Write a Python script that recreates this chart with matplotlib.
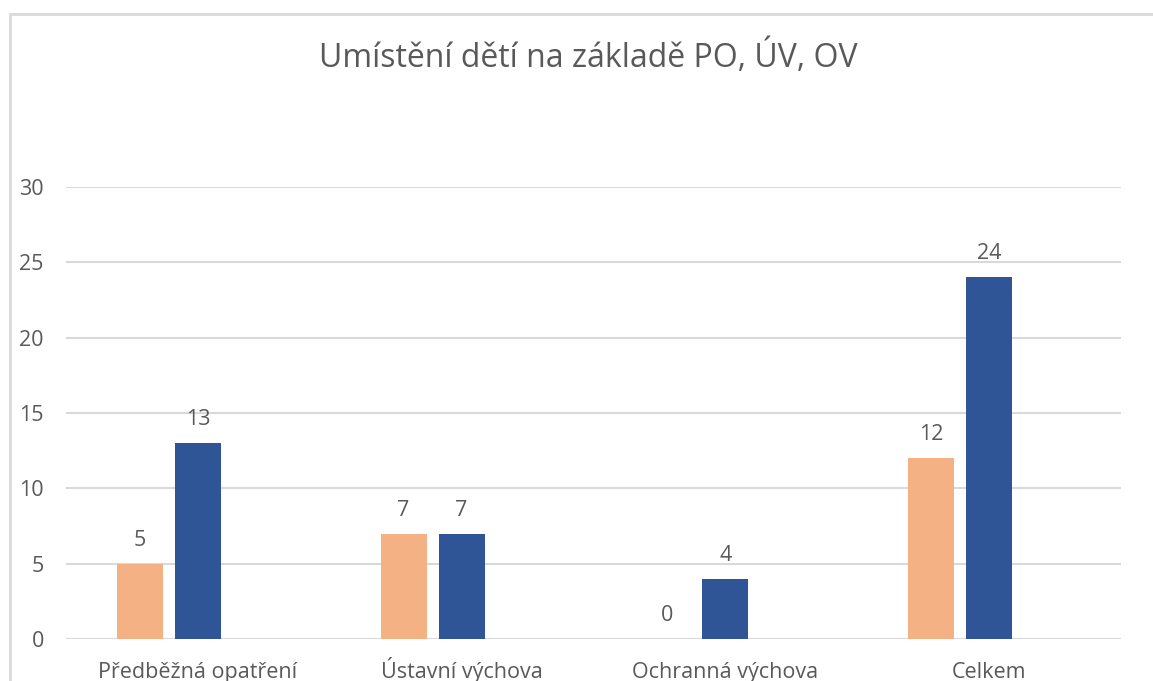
import matplotlib
matplotlib.use("Agg")
import matplotlib.pyplot as plt
import numpy as np
from matplotlib.patches import Rectangle

categories = ["Předběžná opatření", "Ústavní výchova", "Ochranná výchova", "Celkem"]
series_a = [5, 7, 0, 12]
series_b = [13, 7, 4, 24]
yticks = [0, 5, 10, 15, 20, 25, 30]
title = "Umístění dětí na základě PO, ÚV, OV"

color_a = "#F4B183"
color_b = "#2F5597"
text_color = "#595959"
grid_color = "#D9D9D9"

plt.rcParams['font.family'] = ['Open Sans', 'DejaVu Sans']

W, H = 1153, 681
fig = plt.figure(figsize=(W / 100, H / 100), dpi=100)
fig.patch.set_facecolor("white")

# chart border
fig.patches.append(Rectangle((9.5 / W, -0.1), 1.2, 1 - 13.5 / H + 0.1,
                             transform=fig.transFigure, fill=False,
                             edgecolor=grid_color, lw=2))

ax = fig.add_axes([66 / W, 1 - 639 / H, (1121 - 66) / W, (639 - 187) / H])
x = np.arange(len(categories))
cat_px = (1121 - 66) / len(categories)
bw = 46 / cat_px
step = 58 / cat_px
# Three-slot grouping (third slot empty): first series left of centre, second centred
ax.bar(x - step, series_a, width=bw, color=color_a, zorder=3)
ax.bar(x, series_b, width=bw, color=color_b, zorder=3)

fs = 15.5
for xi, va, vb in zip(x, series_a, series_b):
    ax.annotate(str(va), (xi - step, va), xytext=(0, 18), textcoords="offset pixels",
                ha="center", va="baseline", fontsize=fs, color=text_color)
    ax.annotate(str(vb), (xi, vb), xytext=(0, 18), textcoords="offset pixels",
                ha="center", va="baseline", fontsize=fs, color=text_color)

ax.set_xlim(-0.5, len(categories) - 0.5)
ax.set_ylim(0, 30)
ax.set_yticks(yticks)
ax.set_xticks(x)
ax.set_xticklabels(categories, va="baseline")
ax.tick_params(axis="both", length=0, labelsize=fs, labelcolor=text_color)
ax.tick_params(axis="y", pad=16)
ax.tick_params(axis="x", pad=28)
ax.grid(axis="y", color=grid_color, lw=1.5, zorder=0)
for s in ax.spines.values():
    s.set_visible(False)

fig.text(588 / W, 1 - 67 / H, title, ha="center", va="baseline",
         fontsize=23, color=text_color)

fig.savefig("out.png", dpi=100)
